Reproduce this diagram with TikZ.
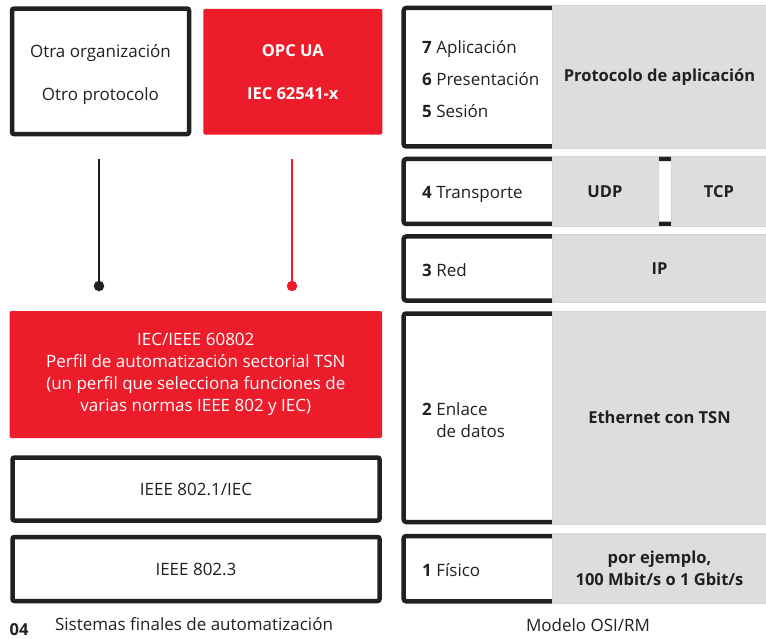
\documentclass[tikz,border=0pt]{standalone}
\usepackage{fontspec}
\setmainfont{Open Sans}
\usepackage{tikz}
\definecolor{abbred}{RGB}{237,28,42}
\definecolor{osigray}{RGB}{220,221,222}
\definecolor{ink}{RGB}{35,31,32}
\newcommand\diagfont{\fontsize{17}{22}\selectfont}
\newcommand\diagbold{\fontsize{16.5}{22}\selectfont\bfseries}
\tikzset{
    endsys/.style={draw=ink, line width=4.5pt, rounded corners=2pt, fill=white,
        text=ink, align=center, inner sep=0pt},
    redblock/.style={fill=abbred, rounded corners=2pt, text=white, align=center, inner sep=0pt},
    osilayer/.style={fill=osigray, draw=black!17, line width=0.6pt, text=ink,
        align=center, font=\diagbold, inner sep=0pt},
    layername/.style={anchor=west, text=ink, align=left, inner sep=0pt},
    osiframe/.style={draw=ink, line width=4.5pt, rounded corners=2.5pt},
    dotend/.style={circle, fill=#1, inner sep=0pt, minimum size=10.5pt},
    captext/.style={text=ink, inner sep=0pt},
}
\begin{document}
\begin{tikzpicture}[x=1pt, y=-1pt, font=\diagfont]
    \useasboundingbox (0,0) rectangle (766,639);

    % automation end systems
    \node[endsys, minimum width=177pt, minimum height=125.5pt] (otra) at (100.5,71.3) {};
    \node[text=ink, align=center] (otratext) at (100.5,74.5) {Otra organización\\[21pt]Otro protocolo};
    \node[redblock, font=\diagbold, minimum width=179pt, minimum height=125.7pt] (opcua) at (292.8,71.8)
        {OPC UA\\[21pt]IEC 62541-x};
    \node[redblock, minimum width=372.5pt, minimum height=127pt] (tsnprof) at (195.8,374.5)
        {IEC/IEEE 60802\\Perfil de automatización sectorial TSN\\(un perfil que selecciona funciones de\\varias normas IEEE 802 y IEC)};
    \node[endsys, minimum width=367pt, minimum height=63pt] (ieeeone) at (196,489) {IEEE 802.1/IEC};
    \node[endsys, minimum width=367pt, minimum height=64pt] (ieeethree) at (196,569) {IEEE 802.3};

    \coordinate (otrafoot) at (99,159);
    \coordinate (opcfoot) at (292,159);
    \node[dotend=ink] (otradot) at (99,286) {};
    \node[dotend=abbred] (opcdot) at (292,286) {};
    \draw[ink, line width=1.3pt] (otrafoot) -- (otradot.center);
    \draw[abbred, line width=1.3pt] (opcfoot) -- (opcdot.center);

    % OSI/RM layers
    \foreach \top/\bot in {8/146.5, 159/224, 236.5/300.5, 313.5/522, 536/601.3}
        \draw[osiframe] (770,\top) -- (403.7,\top) -- (403.7,\bot) -- (770,\bot);

    \node[osilayer, minimum width=215pt, minimum height=143pt] (proto) at (659.5,77.3) {Protocolo de aplicación};
    \node[osilayer, minimum width=106pt, minimum height=69.5pt] (udp) at (605,191.5) {UDP};
    \node[osilayer, minimum width=96pt, minimum height=69.5pt] (tcp) at (719,191.5) {TCP};
    \node[osilayer, minimum width=215pt, minimum height=68.5pt] (ip) at (659.5,268.5) {IP};
    \node[osilayer, minimum width=215pt, minimum height=213pt] (eth) at (659.5,417.8) {Ethernet con TSN};
    \node[osilayer, minimum width=215pt, minimum height=69.8pt] (phys) at (659.5,568.7)
        {por ejemplo,\\100 Mbit/s o 1 Gbit/s};

    \node[layername] (upper) at (422,79)
        {\textbf{7} Aplicación\\[10pt]\textbf{6} Presentación\\[10pt]\textbf{5} Sesión};
    \node[layername] (transp) at (422,194.5) {\textbf{4} Transporte};
    \node[layername] (red) at (422,270) {\textbf{3} Red};
    \node[layername] (link) at (422,420)
        {\textbf{2} Enlace\\\hphantom{\textbf{2} }de datos};
    \node[layername] (fisico) at (422,570) {\textbf{1} Físico};

    % captions
    \node[captext, font=\diagbold] (fignum) at (19,630) {04};
    \node[captext] (leftcap) at (194,624) {Sistemas finales de automatización};
    \node[captext] (rightcap) at (588,625) {Modelo OSI/RM};
\end{tikzpicture}
\end{document}
